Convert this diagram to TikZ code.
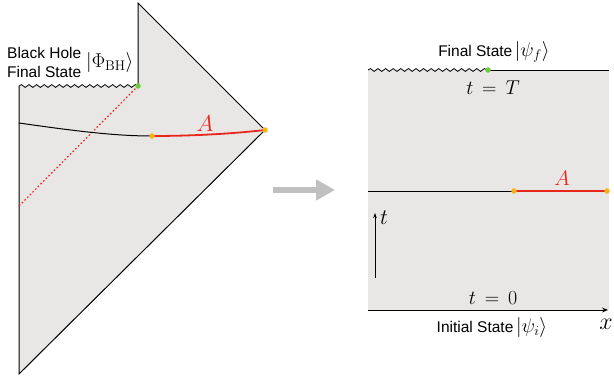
\RequirePackage{fix-cm}
\documentclass[tikz,border=0pt]{standalone}
\usepackage{fontspec}
\newfontfamily\labelfont{Liberation Sans}
\usetikzlibrary{decorations.pathmorphing,arrows.meta}
\definecolor{penrose}{RGB}{232,231,230}
\definecolor{dotgreen}{RGB}{110,205,60}
\definecolor{dotorange}{RGB}{245,178,20}
\definecolor{arrowgray}{RGB}{192,192,192}
\definecolor{slicered}{RGB}{232,38,28}

\begin{document}
\begin{tikzpicture}[x=1pt,y=-1pt,
	wiggle/.style={decorate,decoration={snake,amplitude=1.4pt,segment length=7.6pt}},
	txt/.style={font=\fontsize{15.5}{19}\labelfont,inner sep=0pt},
	mth/.style={font=\fontsize{20}{22}\selectfont,inner sep=0pt},
	dotg/.style={circle,fill=dotgreen,inner sep=0pt,minimum size=5.5pt},
	doto/.style={circle,fill=dotorange,inner sep=0pt,minimum size=5.5pt}]
	\useasboundingbox (0,0) rectangle (614,383);
	% black hole side
	\coordinate (lt) at (19,86);
	\coordinate (bh) at (138,86);
	\coordinate (top) at (138,3);
	\coordinate (rv) at (265,130);
	\coordinate (lb) at (19,374);
	\coordinate (sl) at (19,123);
	\coordinate (sm) at (152,136);
	\coordinate (dl) at (19,206);
	\fill[penrose] (lt) -- (bh) -- (top) -- (rv) -- (lb) -- cycle;
	\draw[wiggle,line width=0.8pt] (lt) -- (bh);
	\draw[line width=1pt] (lt) -- (lb) -- (rv) -- (top) -- (bh);
	\draw[slicered,line width=1.2pt,dash pattern=on 1.6pt off 2.2pt] (bh) -- (dl);
	\draw[line width=1pt] (sl) .. controls (75,131) and (115,136) .. (sm);
	\draw[slicered,line width=1.8pt] (sm) .. controls (190,136) and (230,134) .. (rv);
	\node[dotg] (g1) at (bh) {};
	\node[doto] (o1) at (sm) {};
	\node[doto] (o2) at (rv) {};
	\node[mth,slicered,font=\fontsize{23}{25}\selectfont] (a1) at (205,124) {$A$};
	\node[txt,align=left,anchor=west] (bhlab) at (7,62) {Black Hole\\Final State};
	\node[mth,anchor=west] (bhket) at (86,62) {$|\Phi_{\mathrm{BH}}\rangle$};
	% map arrow
	\draw[arrowgray,line width=6pt,-{Triangle[length=19pt,width=20pt]}] (273,190) -- (335,190);
	% flat side
	\coordinate (fl) at (368,70);
	\coordinate (fs) at (488,70);
	\coordinate (fr) at (609,70);
	\coordinate (ml) at (368,191);
	\coordinate (mm) at (514,191);
	\coordinate (mr) at (607,191);
	\coordinate (xl) at (368,310);
	\coordinate (xr) at (608,310);
	\coordinate (tb) at (375,278);
	\coordinate (tt) at (375,213);
	\fill[penrose] (fl) rectangle (609,310);
	\draw[wiggle,line width=0.8pt] (fl) -- (fs);
	\draw[line width=1pt] (fs) -- (fr);
	\draw[line width=1pt] (ml) -- (mm);
	\draw[slicered,line width=1.8pt] (mm) -- (mr);
	\draw[line width=1pt,-{Stealth[length=6pt,width=5pt]}] (xl) -- (xr);
	\draw[line width=0.8pt,-{Stealth[length=5pt,width=3.5pt]}] (tb) -- (tt);
	\node[dotg] (g2) at (fs) {};
	\node[doto] (o3) at (mm) {};
	\node[doto] (o4) at (mr) {};
	\node[mth,slicered,font=\fontsize{21}{23}\selectfont] (a2) at (562,178) {$A$};
	\node[mth] (tT) at (493,88) {$t\,=\,T$};
	\node[mth] (t0) at (493,298) {$t\,=\,0$};
	\node[mth,font=\fontsize{22}{24}\selectfont,anchor=south west] (tlab) at (380,225) {$t$};
	\node[mth,font=\fontsize{24}{26}\selectfont] (xlab) at (606,324) {$x$};
	\node[txt] (fslab) at (494,52) {Final State\,{\fontsize{20}{22}\selectfont$|\psi_f\rangle$}};
	\node[txt] (islab) at (492,327) {Initial State\,{\fontsize{20}{22}\selectfont$|\psi_i\rangle$}};
\end{tikzpicture}
\end{document}
